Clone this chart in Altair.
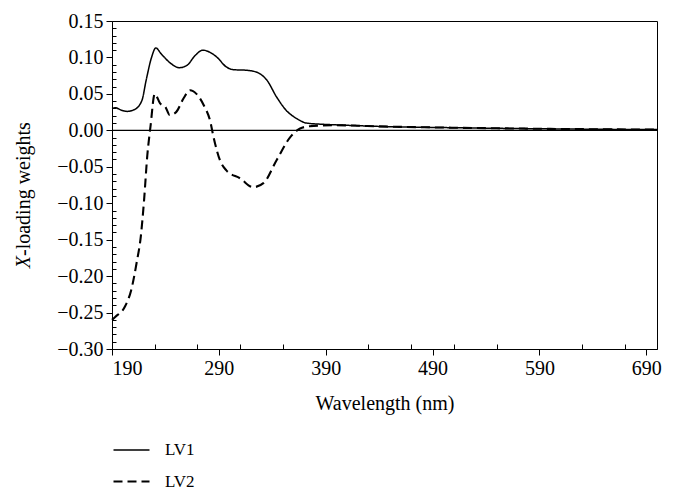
import altair as alt
import pandas as pd

# ---- data ----
wl_lv1 = [190, 193, 199, 204, 211, 218, 222, 227, 231, 236, 244, 253, 260, 268,
          275, 281, 288, 297, 303, 316, 325, 335, 344, 353, 363, 372, 387, 400,
          450, 500, 550, 600, 650, 700]
lv1 = [0.030, 0.031, 0.0275, 0.026, 0.0285, 0.041, 0.069, 0.100, 0.113, 0.105,
       0.093, 0.086, 0.089, 0.103, 0.110, 0.1075, 0.1006, 0.087, 0.0833, 0.0824,
       0.080, 0.0687, 0.0458, 0.0275, 0.016, 0.010, 0.0083, 0.0075, 0.0050,
       0.0038, 0.0028, 0.0020, 0.0014, 0.0010]

wl_lv2 = [190, 193, 202, 208, 213, 217, 220, 223, 226, 230, 235, 240, 244, 250,
          257, 263, 269, 276, 282, 285, 291, 297, 310, 322, 332, 344, 357, 366,
          375, 397, 450, 500, 550, 600, 650, 700]
lv2 = [-0.260, -0.256, -0.242, -0.219, -0.182, -0.145, -0.096, -0.035, 0.005,
       0.050, 0.037, 0.032, 0.021, 0.025, 0.044, 0.055, 0.050, 0.034, 0.012,
       -0.009, -0.041, -0.055, -0.066, -0.078, -0.072, -0.041, -0.009, 0.0025,
       0.0056, 0.0070, 0.0050, 0.0038, 0.0028, 0.0020, 0.0014, 0.0010]

series_names = ["LV1", "LV2"]
x_major = [190, 290, 390, 490, 590, 690]
x_minor = [230, 270, 310, 350, 430, 470, 510, 550, 630, 670]
y_major = [-0.30, -0.25, -0.20, -0.15, -0.10, -0.05, 0.00, 0.05, 0.10, 0.15]
y_minor = [round(k / 100, 2) for k in range(-30, 16) if k % 5 != 0]
zero_line = [0.0]
y_title_parts = ["X", "-loading weights"]

FONT = "Liberation Serif"

df = pd.concat([
    pd.DataFrame({"wl": wl_lv1, "val": lv1, "series": series_names[0]}),
    pd.DataFrame({"wl": wl_lv2, "val": lv2, "series": series_names[1]}),
])

xscale = alt.Scale(domain=[190, 700], nice=False, zero=False)
yscale = alt.Scale(domain=[-0.30, 0.15], nice=False, zero=False)

lines = alt.Chart(df).mark_line(color="black", interpolate="monotone").encode(
    x=alt.X("wl:Q", scale=xscale, axis=alt.Axis(
        values=x_major, format="d", orient="bottom", title="Wavelength (nm)",
        tickSize=6, labelPadding=3, titlePadding=15)),
    y=alt.Y("val:Q", scale=yscale, axis=alt.Axis(
        values=y_major, format=".2f", orient="left", title=None,
        tickSize=6, labelPadding=3)),
    strokeDash=alt.StrokeDash("series:N", scale=alt.Scale(
        domain=series_names, range=[[1, 0], [9, 5]]),
        legend=alt.Legend(title=None, orient="none", legendX=0, legendY=410,
                          symbolType="stroke", symbolSize=1296,
                          symbolStrokeColor="black", labelFontSize=17,
                          labelFont=FONT, labelColor="black", labelOffset=14,
                          rowPadding=4)),
    strokeWidth=alt.StrokeWidth("series:N", scale=alt.Scale(
        domain=series_names, range=[1.5, 2.1]), legend=None),
    order="wl:Q",
)

minor = alt.Chart(df).mark_line(opacity=0).encode(
    x=alt.X("wl:Q", scale=xscale, axis=alt.Axis(
        values=x_minor, orient="bottom", labels=False, domain=False,
        title=None, tickSize=5, offset=-5)),
    y=alt.Y("val:Q", scale=yscale, axis=alt.Axis(
        values=y_minor, orient="left", labels=False, domain=False,
        title=None, tickSize=4, offset=-4)),
    detail="series:N",
)

zero = alt.Chart(pd.DataFrame({"v": zero_line})).mark_rule(
    color="black", strokeWidth=1.2).encode(
    y=alt.Y("v:Q", scale=yscale, axis=None))

tdf = pd.DataFrame({"t": y_title_parts})
title_x = alt.Chart(tdf.iloc[[0]]).mark_text(
    angle=270, align="right", baseline="middle", font=FONT, fontSize=20,
    fontStyle="italic", color="black").encode(
    text="t:N", x=alt.value(-88), y=alt.value(235))
title_rest = alt.Chart(tdf.iloc[[1]]).mark_text(
    angle=270, align="left", baseline="middle", font=FONT, fontSize=20,
    color="black").encode(
    text="t:N", x=alt.value(-88), y=alt.value(235))

chart = alt.layer(lines, minor, zero, title_x, title_rest).resolve_axis(
    x="independent", y="independent"
).properties(
    width=545, height=328,
    autosize=alt.AutoSizeParams(type="none"),
    padding={"left": 104, "top": 13, "right": 11, "bottom": 147},
    background="white",
).configure_view(stroke="black", strokeWidth=1).configure_axis(
    domainColor="black", tickColor="black", labelColor="black",
    titleColor="black", labelFont=FONT, titleFont=FONT, labelFontSize=20,
    titleFontSize=20, titleFontWeight="normal", grid=False, domainWidth=1,
    tickWidth=1,
)

chart.save("out.html", embed_options={"renderer": "svg", "actions": False})
